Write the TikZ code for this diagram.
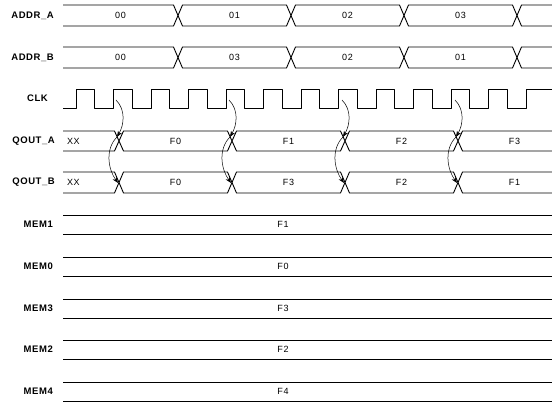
\documentclass[tikz,border=0pt]{standalone}
\usepackage{fontspec}
\setmainfont{Liberation Sans}
\newfontfamily\sigfont[LetterSpace=6]{Liberation Sans}
\usetikzlibrary{arrows.meta}

% one bus row: top y, bottom y, crossing points
\newcommand\busrow[3]{%
  \draw[trace] (63,#1) foreach \c in {#3} { -- (\c-4.5,#1) -- (\c,{(#1+#2)/2}) -- (\c+4.5,#1) } -- (552,#1);
  \draw[trace] (63,#2) foreach \c in {#3} { -- (\c-4.5,#2) -- (\c,{(#1+#2)/2}) -- (\c+4.5,#2) } -- (552,#2);
}

\tikzset{
  trace/.style={line width=0.9pt,line join=round},
  siglabel/.style={anchor=east,inner sep=0pt,
    font=\sigfont\bfseries\fontsize{9.5}{11}\selectfont},
  busval/.style={inner sep=0pt,font=\sigfont\fontsize{9}{10}\selectfont},
  clkarrow/.style={line width=0.5pt,-{Stealth[length=6pt,width=4.5pt]}}
}

\begin{document}
\begin{tikzpicture}[x=1pt,y=-1pt]
  \useasboundingbox (0,0) rectangle (552,409);

  % signal names
  \node[siglabel] (lAddrA) at (54,15.5) {ADDR\_A};
  \node[siglabel] (lAddrB) at (54,57.5) {ADDR\_B};
  \node[siglabel] (lClk)   at (48,98.5) {CLK};
  \node[siglabel] (lQoutA) at (55,141) {QOUT\_A};
  \node[siglabel] (lQoutB) at (55,182.5) {QOUT\_B};
  \foreach \m/\y in {1/224.5,0/266.5,3/308.5,2/349.5,4/391.5}
    \node[siglabel] (lMem\m) at (53,\y) {MEM\m};

  % address buses
  \busrow{5}{26}{178,291,404,517}
  \foreach \x/\v in {120.5/00,234.5/01,347.5/02,460.5/03}
    \node[busval] (addrA\v) at (\x,15.5) {\v};

  \busrow{47}{68}{178,291,404,517}
  \foreach \x/\v in {120.5/00,234.5/03,347.5/02,460.5/01}
    \node[busval] (addrB\v) at (\x,57.5) {\v};

  % clock
  \draw[trace] (63,108) foreach \n in {0,...,11} {
      -- ({76+37.5*\n},108) -- ({76+37.5*\n},89)
      -- ({94.75+37.5*\n},89) -- ({94.75+37.5*\n},108) }
    -- (526,108) -- (526,89) -- (552,89);

  % outputs
  \busrow{131}{151}{119,232,345,458}
  \node[busval,anchor=west] (qoutAXX) at (67,141) {XX};
  \foreach \x/\v in {175.5/F0,288.5/F1,401.5/F2,514.5/F3}
    \node[busval] (qoutA\v) at (\x,141) {\v};

  \busrow{172}{193}{119,232,345,458}
  \node[busval,anchor=west] (qoutBXX) at (67,182.5) {XX};
  \foreach \x/\v in {175.5/F0,288.5/F3,401.5/F2,514.5/F1}
    \node[busval] (qoutB\v) at (\x,182.5) {\v};

  % memory words
  \foreach \m/\y/\v in {1/215/F1,0/257/F0,3/299/F3,2/340/F2,4/382/F4} {
    \draw[trace] (63,\y) -- (552,\y);
    \draw[trace] (63,\y+19) -- (552,\y+19);
    \node[busval] (mem\m) at (283,\y+9.5) {\v};
  }

  % clock edge -> QOUT_A -> QOUT_B
  \foreach \i in {0,...,3} {
    \coordinate (clk\i) at ({116+113*\i},100);
    \coordinate (qa\i)  at ({117+113*\i},137);
    \coordinate (qb\i)  at ({118+113*\i},183);
    \draw[clkarrow] (clk\i) .. controls +(10,10) and +(7,-12) .. (qa\i);
    \draw[clkarrow] (qa\i) .. controls +(-12,12) and +(-10,-14) .. (qb\i);
  }

\end{tikzpicture}
\end{document}
